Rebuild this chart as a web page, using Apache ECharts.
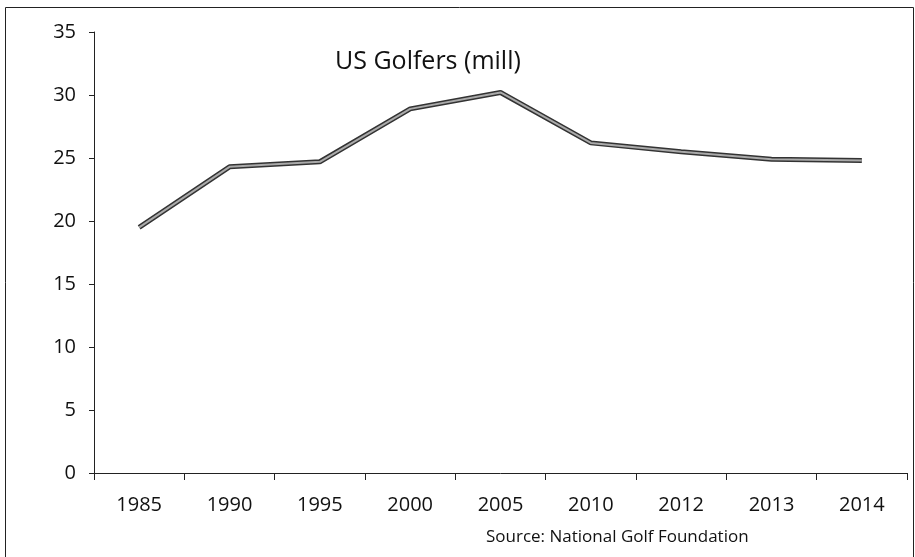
<!DOCTYPE html>
<html>
<head>
<meta charset="utf-8">
<script src="https://cdn.jsdelivr.net/npm/echarts@6/dist/echarts.min.js"></script>
<style>
  html, body { margin: 0; padding: 0; background: #fff; }
  #chart { width: 915px; height: 557px; }
</style>
</head>
<body>
<div id="chart"></div>
<script>
const years = ['1985', '1990', '1995', '2000', '2005', '2010', '2012', '2013', '2014'];
const golfers = [19.5, 24.3, 24.7, 28.9, 30.2, 26.2, 25.5, 24.9, 24.8];
const yTicks = { min: 0, max: 35, step: 5 };

let myChart = echarts.init(document.getElementById('chart'));
let font = '"Open Sans", sans-serif';
let option = {
    animation: false,
    title: [
        {
            text: 'US Golfers (mill)',
            left: 330,
            top: 44,
            textStyle: { fontFamily: font, fontSize: 25, fontWeight: 'normal', color: '#111' }
        },
        {
            text: 'Source: National Golf Foundation',
            left: 481,
            top: 524,
            textStyle: { fontFamily: font, fontSize: 17, fontWeight: 'normal', color: '#111' }
        }
    ],
    graphic: [
        {
            type: 'rect',
            shape: { x: 5.5, y: 7.5, width: 908, height: 560 },
            style: { fill: 'none', stroke: '#222', lineWidth: 1 }
        }
    ],
    grid: {
        left: 94,
        right: 8,
        top: 32,
        bottom: 84
    },
    xAxis: {
        type: 'category',
        data: years,
        boundaryGap: true,
        axisLine: { lineStyle: { color: '#222', width: 1 } },
        axisTick: { show: true, length: 7, lineStyle: { color: '#222' } },
        axisLabel: { fontFamily: font, fontSize: 20, color: '#111', margin: 22 }
    },
    yAxis: {
        type: 'value',
        min: yTicks.min,
        max: yTicks.max,
        interval: yTicks.step,
        axisLine: { show: true, lineStyle: { color: '#222', width: 1 } },
        axisTick: { show: true, length: 5, lineStyle: { color: '#222' } },
        axisLabel: { fontFamily: font, fontSize: 20, color: '#111', margin: 18 },
        splitLine: { show: false }
    },
    series: [
        {
            type: 'line',
            data: golfers,
            symbol: 'none',
            z: 2,
            lineStyle: { color: '#333', width: 5 }
        },
        {
            type: 'line',
            data: golfers,
            symbol: 'none',
            z: 3,
            lineStyle: { color: '#aaa', width: 2 }
        }
    ]
};
myChart.setOption(option);
</script>
</body>
</html>
